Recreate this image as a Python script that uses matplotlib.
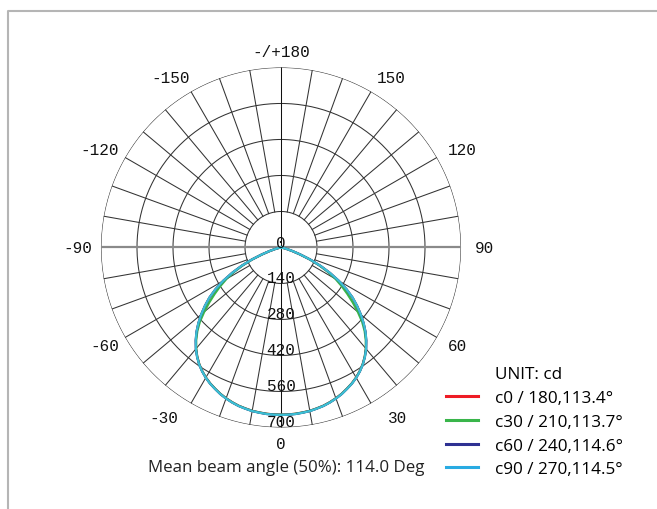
import numpy as np
import matplotlib.pyplot as plt
from matplotlib.lines import Line2D

# Luminous intensity (cd) against gamma angle from nadir, one list per C-plane
gamma = [0, 2.5, 5, 7.5, 10, 12.5, 15, 17.5, 20, 22.5, 25, 27.5, 30, 32.5, 35, 37.5, 40, 42.5,
         45, 47.5, 50, 52.5, 55, 57.5, 60, 62.5, 65, 67.5, 70, 72.5, 75, 77.5, 80, 85, 90]
c0 = [650, 650, 649, 647, 645, 641, 637, 631, 624, 616, 606, 596, 584, 570, 554, 535, 514, 490,
      464, 435, 404, 372, 338, 300, 258, 213, 168, 122, 78, 46, 24, 11, 4, 0, 0]
c30 = [650, 650, 649, 647, 645, 641, 637, 631, 624, 616, 606, 596, 584, 570, 554, 535, 513, 488,
       460, 428, 390, 352, 315, 280, 245, 205, 163, 120, 76, 45, 24, 11, 4, 0, 0]
c60 = [651, 651, 650, 648, 646, 642, 638, 632, 625, 617, 607, 597, 585, 571, 555, 536, 515, 491,
       465, 436, 405, 373, 340, 302, 260, 215, 170, 124, 80, 48, 25, 12, 5, 0, 0]
c90 = [651, 651, 650, 648, 646, 642, 638, 632, 625, 617, 607, 597, 585, 571, 555, 536, 515, 491,
       465, 436, 405, 373, 340, 302, 260, 215, 170, 124, 80, 48, 25, 12, 5, 0, 0]

series_names = ['c0 / 180,113.4°', 'c30 / 210,113.7°', 'c60 / 240,114.6°', 'c90 / 270,114.5°']
series_colors = ['#ee1c25', '#39b54a', '#2e3192', '#3cbfd3']
legend_colors = ['#ee1c25', '#39b54a', '#2e3192', '#29abe2']

ring_values = [140, 280, 420, 560, 700]
angle_ticks = [0, 30, 60, 90, 120, 150, 180, -150, -120, -90, -60, -30]
angle_labels = ['0', '30', '60', '90', '120', '150', '-/+180', '-150', '-120', '-90', '-60', '-30']
# sideways push of each angle label, in pixels from the centre
label_dx = [0, 117, 176, 203, 181, 110, 0, -110, -181, -203, -176, -117]

mono = 'Liberation Mono'
sans = 'Open Sans'

R_PX = 180.0          # outer ring radius in pixels
scale = 700 / R_PX

fig = plt.figure(figsize=(6.57, 5.10), dpi=100)
ax = fig.add_axes([0.1537, 0.1598, 0.548, 0.706], projection='polar')
ax.set_theta_zero_location('S')
ax.set_theta_direction(1)
ax.set_ylim(0, 700)
ax.grid(False)
ax.set_xticks([])
ax.set_yticks([])
ax.spines['polar'].set_visible(False)
ax.patch.set_alpha(0)

grid_c = '#333333'
t = np.linspace(0, 2 * np.pi, 400)
for rv in ring_values:
    ax.plot(t, np.full_like(t, rv), color=grid_c, lw=0.75, zorder=1)

# spokes every 10 degrees outside the first ring
for a in range(0, 360, 10):
    th = np.deg2rad(a)
    if a % 180 == 0:
        ax.plot([th, th], [0, 700], color='#111111', lw=0.75, zorder=1)
    elif a % 90 == 0:
        ax.plot([th, th], [0, 700], color='#8a8a8a', lw=1.6, zorder=1)
    else:
        ax.plot([th, th], [ring_values[0], 700], color=grid_c, lw=0.75, zorder=1)

# curves, both halves of each plane
g = np.deg2rad(np.array(gamma))
for vals, col, name in zip([c0, c30, c60, c90], series_colors, series_names):
    v = np.array(vals)
    th = np.concatenate([-g[::-1], g[1:]])
    rr = np.concatenate([v[::-1], v[1:]])
    ax.plot(th, rr, color=col, lw=1.6, zorder=3, label=name)

# angle labels
for a, lab, dx in zip(angle_ticks, angle_labels, label_dx):
    dy = 196 * np.cos(np.deg2rad(a))
    th = np.arctan2(dx, dy)
    r = np.hypot(dx, dy) * scale
    ax.text(th, r, lab, ha='center', va='center', fontsize=11.5, family=mono, color='#111111')

# radial labels on the vertical line
ax.text(np.pi, 20, '0', ha='center', va='center', fontsize=11.5, family=mono, color='#111111', zorder=4)
for rv in ring_values:
    ax.text(0, rv - 25, str(rv), ha='center', va='center', fontsize=11.5, family=mono,
            color='#111111', zorder=4)

handles = [Line2D([], [], color='none', label='UNIT: cd')]
handles += [Line2D([], [], color=c, lw=2.2, label=n) for c, n in zip(legend_colors, series_names)]
fig.legend(handles=handles, loc='upper left', bbox_to_anchor=(446 / 657, 1 - 367 / 510),
           bbox_transform=fig.transFigure, frameon=False, borderpad=0, borderaxespad=0,
           handlelength=1.9, handletextpad=0.95, labelspacing=0.46,
           prop={'family': sans, 'size': 12.3})

fig.text(0.436, 1 - 468 / 510, 'Mean beam angle (50%): 114.0 Deg', ha='center', va='center',
         fontsize=12.2, family=sans, color='#222222')

# grey frame along top and left
fig.add_artist(Line2D([8 / 657, 8 / 657, 1], [0, 1 - 12 / 510, 1 - 12 / 510],
                      transform=fig.transFigure, color='#b5b5b5', lw=1.5))

fig.savefig('out.png', dpi=100)
